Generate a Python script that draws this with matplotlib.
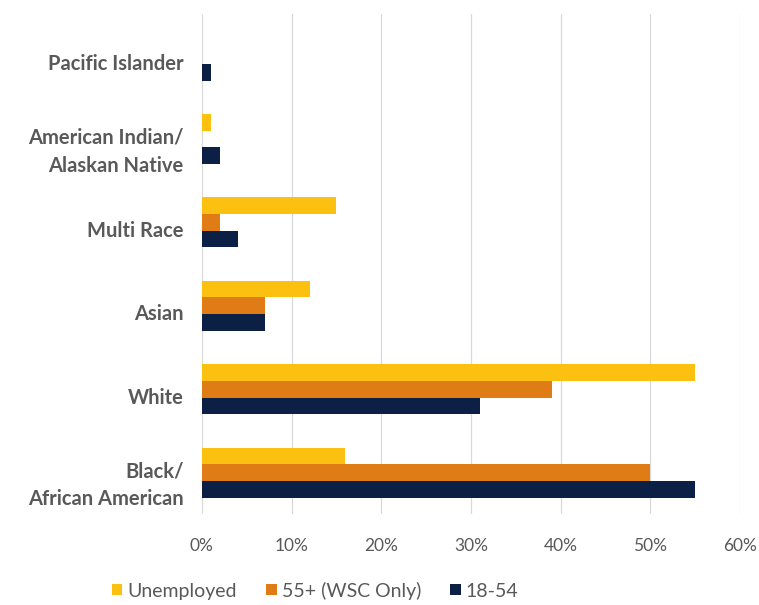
import numpy as np
import matplotlib.pyplot as plt
from matplotlib.ticker import PercentFormatter

categories = ["Black/\nAfrican American", "White", "Asian", "Multi Race",
              "American Indian/\nAlaskan Native", "Pacific Islander"]
unemployed = [0.16, 0.55, 0.12, 0.15, 0.01, 0.0]
age_55_plus = [0.50, 0.39, 0.07, 0.02, 0.0, 0.0]
age_18_54 = [0.55, 0.31, 0.07, 0.04, 0.02, 0.01]
series_names = ["Unemployed", "55+ (WSC Only)", "18-54"]
x_ticks = [0, 0.1, 0.2, 0.3, 0.4, 0.5, 0.6]

plt.rcParams['font.family'] = ['Lato', 'DejaVu Sans']

colors = ["#FCC010", "#E07C16", "#0C1F44"]
text_col = "#595959"

fig = plt.figure(figsize=(7.59, 6.05), dpi=100)
ax = fig.add_axes([0.266, 0.150, 0.709, 0.827])

y = np.arange(len(categories))
h = 0.2
# top to bottom in each group: Unemployed, 55+, 18-54
ax.barh(y + h, unemployed, height=h, color=colors[0], label=series_names[0], zorder=3)
ax.barh(y, age_55_plus, height=h, color=colors[1], label=series_names[1], zorder=3)
ax.barh(y - h, age_18_54, height=h, color=colors[2], label=series_names[2], zorder=3)

ax.set_xlim(0, 0.6)
ax.set_ylim(-0.5, len(categories) - 0.5)
ax.set_xticks(x_ticks)
ax.xaxis.set_major_formatter(PercentFormatter(1.0, decimals=0))
# labels sit a little below the group centre in the original
ax.set_yticks(y - 0.08)
ax.set_yticklabels(categories, fontsize=14.5, fontweight='bold', color=text_col,
                   ha='right', multialignment='right', linespacing=1.5)
ax.tick_params(axis='x', colors=text_col, labelsize=12.5, length=0, pad=17)
ax.tick_params(axis='y', length=0, pad=13)
ax.grid(axis='x', color="#D9D9D9", linewidth=0.9, zorder=0)
for s in ax.spines.values():
    s.set_visible(False)

leg = fig.legend(loc='center', bbox_to_anchor=(0.415, 0.024), ncol=3, frameon=False,
                 fontsize=14, handlelength=0.55, handleheight=0.55, handletextpad=0.25,
                 columnspacing=1.5)
for t in leg.get_texts():
    t.set_color(text_col)

fig.savefig("out.png", dpi=100, facecolor="white")
